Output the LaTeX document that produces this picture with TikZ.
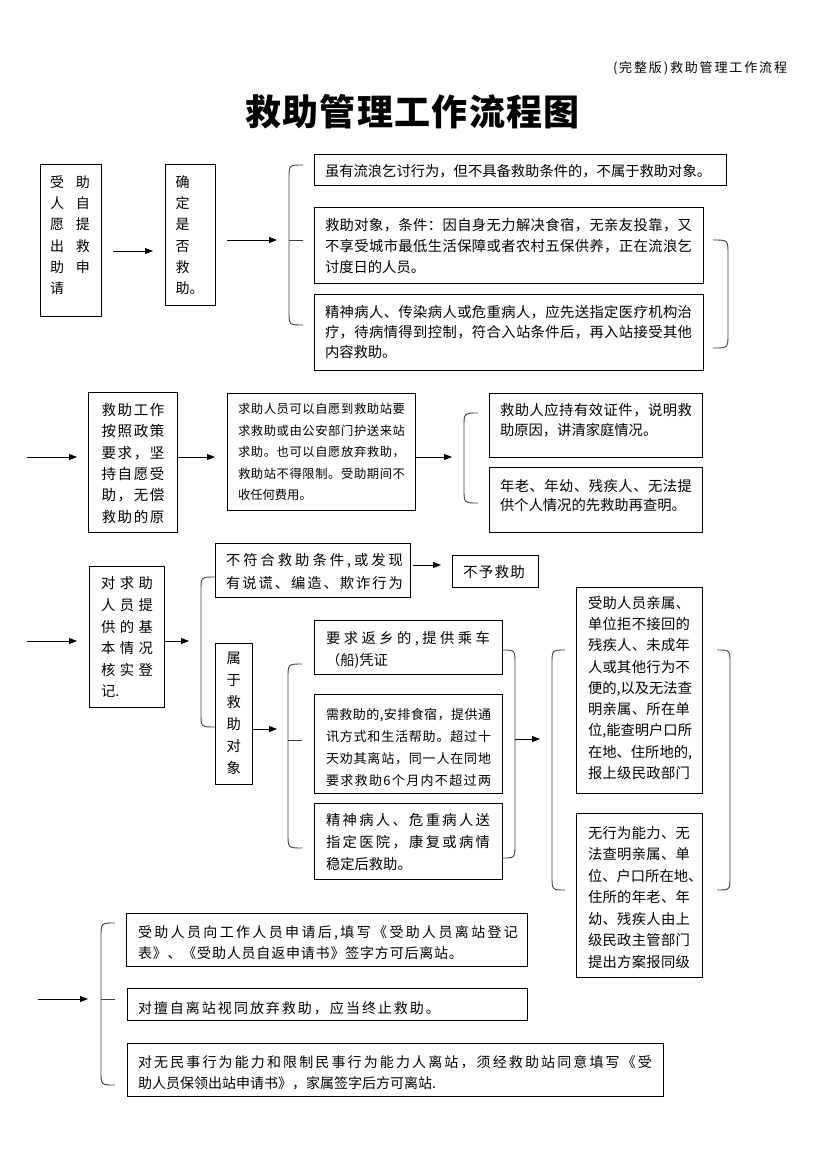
\documentclass[tikz,border=0pt]{standalone}
\usepackage{fontspec}
\setmainfont{Noto Sans CJK SC}
\usetikzlibrary{arrows.meta}
\makeatletter
\def\spr@a#1{#1\futurelet\spr@next\spr@b}
\def\spr@b{\ifx\spr@next\relax\expandafter\@gobble\else\hfill\expandafter\spr@a\fi}
\newcommand\spr[2]{\makebox[#1][s]{\spr@a#2\relax}}
\makeatother
\newcommand\bx[5]{\node[box, minimum width={(#4-#2)*1pt}, minimum height={(#5-#3)*1pt}, anchor=north west] (#1) at (#2,#3) {};}
\newcommand\tx[6]{\node[anchor=base west,inner sep=0pt,outer sep=0pt] (#1) at (#2,{#3+0.38*#4}) {\fontsize{#4}{#5}\selectfont\parbox[t]{560pt}{#6}};}
\tikzset{
  box/.style={draw, line width=0.9pt, inner sep=0pt, outer sep=0pt},
  arr/.style={line width=0.9pt, -{Triangle[length=8pt,width=6pt]}},
  brc/.style={line width=0.9pt, draw=black!75},
}
\begin{document}
\begin{tikzpicture}[x=1pt,y=-1pt]
\useasboundingbox (0,0) rectangle (826,1169);
\fill[white] (0,0) rectangle (826,1169);
% header and title
\tx{hdr}{613}{68}{13}{16}{\spr{174pt}{(完整版)救助管理工作流程}}
\tx{ttl}{245}{112}{36}{40}{\bfseries\spr{335pt}{救助管理工作流程图}}
% row 1
\bx{b1}{40}{164}{101}{316}
\bx{b2}{165}{164}{215}{305}
\bx{bA}{314}{154}{726}{185}
\bx{bB}{314}{207}{703}{283}
\bx{bC}{314}{294}{703}{370}
\tx{t1}{50}{182}{14}{21.3}{\spr{40pt}{受助}\\\spr{40pt}{人自}\\\spr{40pt}{愿提}\\\spr{40pt}{出救}\\\spr{40pt}{助申}\\请}
\tx{t2}{175.5}{182}{14}{21.3}{确\\定\\是\\否\\救\\助。}
\tx{tA}{325}{171}{14.3}{21}{虽有流浪乞讨行为，但不具备救助条件的，不属于救助对象。}
\tx{tB}{325}{225}{14.3}{21}{\spr{367pt}{救助对象，条件：因自身无力解决食宿，无亲友投靠，又}\\\spr{367pt}{不享受城市最低生活保障或者农村五保供养，正在流浪乞}\\讨度日的人员。}
\tx{tC}{325}{312}{14.3}{20}{\spr{367pt}{精神病人、传染病人或危重病人，应先送指定医疗机构治}\\\spr{367pt}{疗，待病情得到控制，符合入站条件后，再入站接受其他}\\内容救助。}
\coordinate (a1s) at (113,251); \coordinate (a1e) at (153,251);
\coordinate (a2s) at (227,240); \coordinate (a2e) at (277,240);
\draw[arr] (a1s) -- (a1e);
\draw[arr] (a2s) -- (a2e);
\draw[brc] (303,165) .. controls (289,165) .. (289,179) -- (289,311) .. controls (289,325) .. (303,325);
\draw[brc] (289,240) -- (303,240);
\draw[brc] (713,240) .. controls (728,240) .. (728,254) -- (728,334) .. controls (728,348) .. (713,348);
% row 2
\bx{bD}{88}{392}{177}{532}
\bx{bE}{227}{393}{415}{510}
\bx{bF}{489}{393}{702}{457}
\bx{bG}{489}{467}{702}{532}
\tx{tD}{101.5}{410}{14.5}{21.35}{\spr{63pt}{救助工作}\\\spr{63pt}{按照政策}\\\spr{63pt}{要求，坚}\\\spr{63pt}{持自愿受}\\\spr{63pt}{助，无偿}\\\spr{63pt}{救助的原}}
\tx{tE}{238}{409}{12.3}{21.5}{\spr{167pt}{求助人员可以自愿到救助站要}\\\spr{167pt}{求救助或由公安部门护送来站}\\\spr{167pt}{求助。也可以自愿放弃救助，}\\\spr{167pt}{救助站不得限制。受助期间不}\\收任何费用。}
\tx{tF}{500}{410}{14.3}{20}{\spr{192pt}{救助人应持有效证件，说明救}\\助原因，讲清家庭情况。}
\tx{tG}{500}{486}{14.3}{19.5}{\spr{192pt}{年老、年幼、残疾人、无法提}\\供个人情况的先救助再查明。}
\coordinate (a3s) at (27,457); \coordinate (a3e) at (77,457);
\coordinate (a4s) at (177,457); \coordinate (a4e) at (215,457);
\coordinate (a5s) at (415,457); \coordinate (a5e) at (452,457);
\draw[arr] (a3s) -- (a3e);
\draw[arr] (a4s) -- (a4e);
\draw[arr] (a5s) -- (a5e);
\draw[brc] (478,413) .. controls (464,413) .. (464,427) -- (464,489) .. controls (464,503) .. (478,503);
% row 3
\bx{bH}{89}{566}{164}{707}
\bx{bI}{215}{543}{410}{597}
\bx{bK}{452}{555}{538}{587}
\bx{bJ}{215}{643}{252}{784}
\bx{bL}{314}{620}{502}{674}
\bx{bM}{314}{694}{502}{793}
\bx{bN}{314}{803}{502}{879}
\bx{bP}{576}{587}{702}{793}
\bx{bQ}{576}{813}{702}{977}
\tx{tH}{101}{583.5}{14.3}{21.6}{\spr{52pt}{对求助}\\\spr{52pt}{人员提}\\\spr{52pt}{供的基}\\\spr{52pt}{本情况}\\\spr{52pt}{核实登}\\记.}
\tx{tI}{226}{560}{14.3}{23.5}{\spr{177pt}{不符合救助条件,或发现}\\\spr{177pt}{有说谎、编造、欺诈行为}}
\tx{tK}{463}{571.5}{14.5}{20}{\spr{62pt}{不予救助}}
\tx{tJ}{226.5}{658}{14.3}{22}{属\\于\\救\\助\\对\\象}
\tx{tL}{326}{638}{14.3}{22}{\spr{164pt}{要求返乡的,提供乘车}\\（船)凭证}
\tx{tM}{326}{715}{13}{21.7}{\spr{165pt}{需救助的,安排食宿，提供通}\\\spr{165pt}{讯方式和生活帮助。超过十}\\\spr{165pt}{天劝其离站，同一人在同地}\\\spr{165pt}{要求救助 6 个月内不超过两}}
\tx{tN}{326}{820}{14.3}{22}{\spr{164pt}{精神病人、危重病人送}\\\spr{164pt}{指定医院，康复或病情}\\稳定后救助。}
\tx{tP}{588}{603}{14.3}{21.25}{\spr{102pt}{受助人员亲属、}\\\spr{102pt}{单位拒不接回的}\\\spr{102pt}{残疾人、未成年}\\\spr{102pt}{人或其他行为不}\\\spr{102pt}{便的,以及无法查}\\\spr{102pt}{明亲属、所在单}\\\spr{102pt}{位,能查明户口所}\\\spr{102pt}{在地、住所地的,}\\\spr{102pt}{报上级民政部门}}
\tx{tQ}{588}{833}{14.3}{21.5}{\spr{102pt}{无行为能力、无}\\\spr{102pt}{法查明亲属、单}\\\spr{102pt}{位、户口所在地、}\\\spr{102pt}{住所的年老、年}\\\spr{102pt}{幼、残疾人由上}\\\spr{102pt}{级民政主管部门}\\\spr{102pt}{提出方案报同级}}
\coordinate (a6s) at (27,641); \coordinate (a6e) at (77,641);
\coordinate (a7s) at (164,641); \coordinate (a7e) at (189,641);
\coordinate (a8s) at (413,565); \coordinate (a8e) at (441,565);
\coordinate (a9s) at (252,729); \coordinate (a9e) at (277,729);
\coordinate (a10s) at (515,739); \coordinate (a10e) at (540,739);
\draw[arr] (a6s) -- (a6e);
\draw[arr] (a7s) -- (a7e);
\draw[arr] (a8s) -- (a8e);
\draw[arr] (a9s) -- (a9e);
\draw[arr] (a10s) -- (a10e);
\draw[brc] (bI.west |- 0,577) .. controls (201,577) .. (201,591) -- (201,713) .. controls (201,727) .. (bJ.west |- 0,727);
\draw[brc] (302,664) .. controls (288,664) .. (288,678) -- (288,834) .. controls (288,848) .. (302,848);
\draw[brc] (288,740) -- (302,740);
\draw[brc] (bL.east |- 0,650) .. controls (515,650) .. (515,664) -- (515,844) .. controls (515,858) .. (bN.east |- 0,858);
\draw[brc] (565,650) .. controls (552,650) .. (552,664) -- (552,876) .. controls (552,890) .. (565,890);
\draw[brc] (717,650) .. controls (730,650) .. (730,664) -- (730,876) .. controls (730,890) .. (717,890);
% bottom
\bx{bP1}{126}{913}{527}{966}
\bx{bP2}{127}{988}{527}{1020}
\bx{bP3}{127}{1043}{663}{1096}
\tx{tP1}{138}{932}{14}{21.5}{\spr{380pt}{受助人员向工作人员申请后,填写《受助人员离站登记}\\\spr{325pt}{表》、《受助人员自返申请书》签字方可后离站。}}
\tx{tP2}{138}{1008}{14}{20}{\spr{302pt}{对擅自离站视同放弃救助，应当终止救助。}}
\tx{tP3}{138}{1062}{14}{21}{\spr{514pt}{对无民事行为能力和限制民事行为能力人离站，须经救助站同意填写《受}\\助人员保领出站申请书》，家属签字后方可离站.}
\coordinate (a11s) at (38,999); \coordinate (a11e) at (88,999);
\draw[arr] (a11s) -- (a11e);
\draw[brc] (115,923) .. controls (101,923) .. (101,937) -- (101,1071) .. controls (101,1085) .. (115,1085);
\draw[brc] (101,999) -- (115,999);
\end{tikzpicture}
\end{document}
